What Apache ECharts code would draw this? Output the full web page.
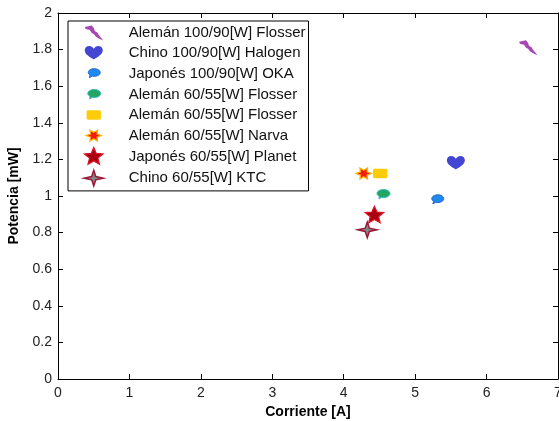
<!DOCTYPE html>
<html>
<head>
<meta charset="utf-8">
<script src="https://cdn.jsdelivr.net/npm/echarts@6/dist/echarts.min.js"></script>
<style>
html,body{margin:0;padding:0;background:#fff;}
#chart{width:559px;height:421px;}
</style>
</head>
<body>
<div id="chart"></div>
<script>
// ---- data ----
const seriesNames = [
  'Alemán 100/90[W] Flosser',
  'Chino 100/90[W] Halogen',
  'Japonés 100/90[W] OKA',
  'Alemán 60/55[W] Flosser',
  'Alemán 60/55[W] Flosser ',
  'Alemán 60/55[W] Narva',
  'Japonés 60/55[W] Planet',
  'Chino 60/55[W] KTC'
];
const currentA = [6.58, 5.57, 5.31, 4.55, 4.51, 4.28, 4.43, 4.33];
const powerMW = [1.81, 1.18, 0.98, 1.008, 1.123, 1.123, 0.894, 0.815];
const xTicks = [0, 1, 2, 3, 4, 5, 6, 7];
const yTicks = [0, 0.2, 0.4, 0.6, 0.8, 1, 1.2, 1.4, 1.6, 1.8, 2];

// ---- marker shapes (20x20 frame) ----
function star(n, rx, ry, inner, rot) {
  const pts = [];
  for (let i = 0; i < 2 * n; i++) {
    const a = rot + Math.PI * i / n;
    const r = (i % 2 === 0) ? 1 : inner;
    pts.push((10 + rx * r * Math.sin(a)).toFixed(2) + ' ' + (10 - ry * r * Math.cos(a)).toFixed(2));
  }
  return 'M' + pts.join(' L') + ' Z';
}
const shapes = [
  'M1 4 L8 2.5 L10 5 L11 8 L13.5 9.5 L15 12 L19.5 17.5 L15 15.5 L12 13.5 L10 11 L8 10 L6 7 L2 6 Z',
  'M10 16.5 C6.5 14 1 11.5 1 7.2 C1 4.5 3 3 5.5 3 C7.5 3 9 4.2 10 5.8 C11 4.2 12.5 3 14.5 3 C17 3 19 4.5 19 7.2 C19 11.5 13.5 14 10 16.5 Z',
  'M4.5 9 C4.5 6.9 7.2 5.2 10.5 5.2 C13.8 5.2 16.5 6.9 16.5 9 C16.5 11.1 13.8 12.8 10.5 12.8 C9.8 12.8 9.1 12.7 8.5 12.5 L5.6 14.3 L6.3 11.6 C5.2 10.9 4.5 10 4.5 9 Z',
  'M4 9 C4 6.8 6.9 5 10.5 5 C14.1 5 17 6.8 17 9 C17 11.2 14.1 13 10.5 13 C9.8 13 9.1 12.9 8.5 12.7 L6 14.5 L6.3 11.8 C4.9 11.1 4 10.1 4 9 Z',
  'M4.5 5.3 L15.5 5.3 C16.6 5.3 17.2 5.9 17.2 7 L17.2 13 C17.2 14.1 16.6 14.7 15.5 14.7 L4.5 14.7 C3.4 14.7 2.8 14.1 2.8 13 L2.8 7 C2.8 5.9 3.4 5.3 4.5 5.3 Z',
  star(6, 7.6, 6.4, 0.5, Math.PI / 6),
  star(5, 9.8, 9.2, 0.45, 0),
  star(4, 9.6, 7.8, 0.3, 0)
];
const fills = ['#A647B4', '#4545D4', '#1E8AF0', '#22A660', '#FFCC0A', '#F21A12', '#A8000F', '#868686'];
const borders = ['#A647B4', '#4545D4', '#2A62C8', '#34B6CC', '#FFCC0A', '#FFB000', '#E0142A', '#9A1838'];
const borderW = [0, 0, 1, 1, 0, 1.2, 1.2, 1.5];

function shift(path, dx) {
  const toks = path.match(/[A-Za-z]|-?[\d.]+/g);
  let k = 0; const out = [];
  toks.forEach(t => {
    if (/[A-Za-z]/.test(t)) { k = 0; out.push(t); }
    else { let v = parseFloat(t); if (k % 2 === 0) v += dx; out.push(+v.toFixed(2)); k++; }
  });
  return out.join(' ');
}
const frame = 'M0 0 M20 20 ';
const legendFrame = 'M0 0 M51 20 ';

const chart = echarts.init(document.getElementById('chart'));
const series = seriesNames.map((nm, i) => ({
  name: nm,
  type: 'scatter',
  data: [[currentA[i], powerMW[i]]],
  symbol: 'path://' + frame + shapes[i],
  symbolSize: 20,
  symbolKeepAspect: true,
  itemStyle: { color: fills[i], borderColor: borders[i], borderWidth: borderW[i], opacity: 1 },
  emphasis: { disabled: true },
  z: 3
}));

const font = 'Liberation Sans, Arial, sans-serif';
chart.setOption({
  animation: false,
  backgroundColor: '#fff',
  grid: { left: 58, right: 1, top: 13, bottom: 42, containLabel: false, outerBoundsMode: 'none' },
  xAxis: [{
    type: 'value', min: 0, max: 7, interval: 1,
    name: 'Corriente [A]', nameLocation: 'middle', nameGap: 25,
    nameTextStyle: { fontFamily: font, fontWeight: 'bold', fontSize: 14, color: '#000' },
    axisLine: { show: true, lineStyle: { color: '#000', width: 1 } },
    axisTick: { show: true, inside: true, length: 5, lineStyle: { color: '#000' } },
    axisLabel: { fontFamily: font, fontSize: 14, color: '#222', margin: 7,
      formatter: v => String(xTicks[xTicks.indexOf(v)] ?? v) },
    splitLine: { show: false }
  }, {
    type: 'value', position: 'top', min: 0, max: 7, interval: 1,
    axisLine: { show: true, onZero: false, lineStyle: { color: '#000', width: 1 } },
    axisTick: { show: true, inside: true, length: 5, lineStyle: { color: '#000' } },
    axisLabel: { show: false }, splitLine: { show: false }
  }],
  yAxis: [{
    type: 'value', min: 0, max: 2, interval: 0.2,
    name: 'Potencia [mW]', nameLocation: 'middle', nameGap: 36, nameRotate: 90,
    nameTextStyle: { fontFamily: font, fontWeight: 'bold', fontSize: 14, color: '#000' },
    axisLine: { show: true, onZero: false, lineStyle: { color: '#000', width: 1 } },
    axisTick: { show: true, inside: true, length: 5, lineStyle: { color: '#000' } },
    axisLabel: { fontFamily: font, fontSize: 14, color: '#222', margin: 6,
      formatter: v => { const t = yTicks.find(y => Math.abs(y - v) < 1e-9); return String(t !== undefined ? t : v); } },
    splitLine: { show: false }
  }, {
    type: 'value', position: 'right', min: 0, max: 2, interval: 0.2,
    axisLine: { show: true, onZero: false, lineStyle: { color: '#000', width: 1 } },
    axisTick: { show: true, inside: true, length: 5, lineStyle: { color: '#000' } },
    axisLabel: { show: false }, splitLine: { show: false }
  }],
  legend: {
    orient: 'vertical', left: 68, top: 21,
    padding: [2, 3, 2, 4],
    itemWidth: 51, itemHeight: 20, itemGap: 0,
    symbolKeepAspect: true,
    borderColor: '#000', borderWidth: 1, backgroundColor: '#fff',
    selectedMode: false,
    textStyle: { fontFamily: font, fontSize: 15, color: '#111' },
    data: seriesNames.map((nm, i) => ({
      name: nm,
      icon: 'path://' + legendFrame + shift(shapes[i], 11),
      itemStyle: { color: fills[i], borderColor: borders[i], borderWidth: borderW[i] }
    }))
  },
  series: series
});
</script>
</body>
</html>
